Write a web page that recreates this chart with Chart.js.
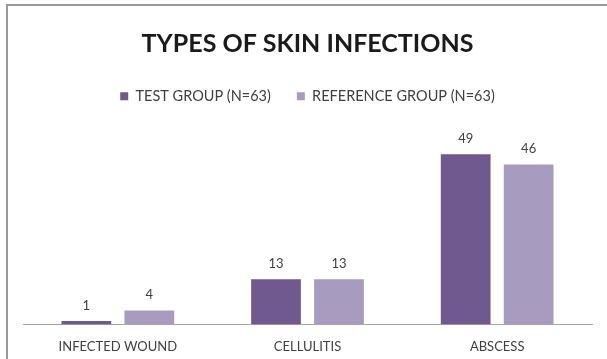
<!DOCTYPE html>
<html>
<head>
<meta charset="utf-8">
<script src="https://cdn.jsdelivr.net/npm/chart.js@4"></script>
<style>
  html, body { margin: 0; padding: 0; background: #fff; overflow: hidden; }
  .wrap { position: relative; width: 607px; height: 359px; }
  .frame { position: absolute; left: 6px; top: 4px; width: 700px; height: 400px; border: 2px solid #9a9a9a; }
  canvas { position: absolute; left: 0; top: 0; }
</style>
</head>
<body>
<div class="wrap">
  <div class="frame"></div>
  <canvas class="chart-js" width="607" height="359"></canvas>
</div>
<script>
const canvas = document.querySelector('.chart-js').getContext('2d');

const categories = ['INFECTED WOUND', 'CELLULITIS', 'ABSCESS'];
const testGroup = [1, 13, 49];
const referenceGroup = [4, 13, 46];
const seriesNames = ['TEST GROUP (N=63)', 'REFERENCE GROUP (N=63)'];

const TEXT = '#404040';

// prints the value above every bar
const barValues = {
  id: 'barValues',
  afterDatasetsDraw(chart) {
    const ctx = chart.ctx;
    ctx.save();
    ctx.font = '13px Lato';
    ctx.fillStyle = TEXT;
    ctx.textAlign = 'center';
    ctx.textBaseline = 'bottom';
    chart.data.datasets.forEach((ds, i) => {
      chart.getDatasetMeta(i).data.forEach((bar, j) => {
        ctx.fillText(ds.data[j], bar.x, bar.y - 9);
      });
    });
    ctx.restore();
  },
};

new Chart(canvas, {
  type: 'bar',
  data: {
    labels: categories,
    datasets: [
      {
        label: seriesNames[0],
        data: testGroup,
        backgroundColor: '#70598f',
        categoryPercentage: 0.664,
        barPercentage: 0.79,
      },
      {
        label: seriesNames[1],
        data: referenceGroup,
        backgroundColor: '#a89bc0',
        categoryPercentage: 0.664,
        barPercentage: 0.79,
      },
    ],
  },
  options: {
    responsive: false,
    animation: false,
    layout: { padding: { left: 23, right: 15, top: 18, bottom: -11 } },
    plugins: {
      title: {
        display: true,
        text: 'TYPES OF SKIN INFECTIONS',
        color: '#1a1a1a',
        font: { family: 'Lato', size: 25, weight: 'bold' },
        padding: { top: 11, bottom: 4 },
      },
      legend: {
        labels: {
          color: TEXT,
          font: { family: 'Lato', size: 14.5 },
          boxWidth: 8,
          boxHeight: 8,
          padding: 26,
        },
      },
      tooltip: { enabled: false },
    },
    scales: {
      x: {
        grid: { display: false, drawTicks: false },
        border: { display: true, color: '#a6a6a6', width: 1 },
        ticks: { color: TEXT, font: { family: 'Lato', size: 13 }, padding: 15 },
      },
      y: {
        display: false,
        min: 0,
        max: 60.7,
      },
    },
  },
  plugins: [barValues],
});
</script>
</body>
</html>
